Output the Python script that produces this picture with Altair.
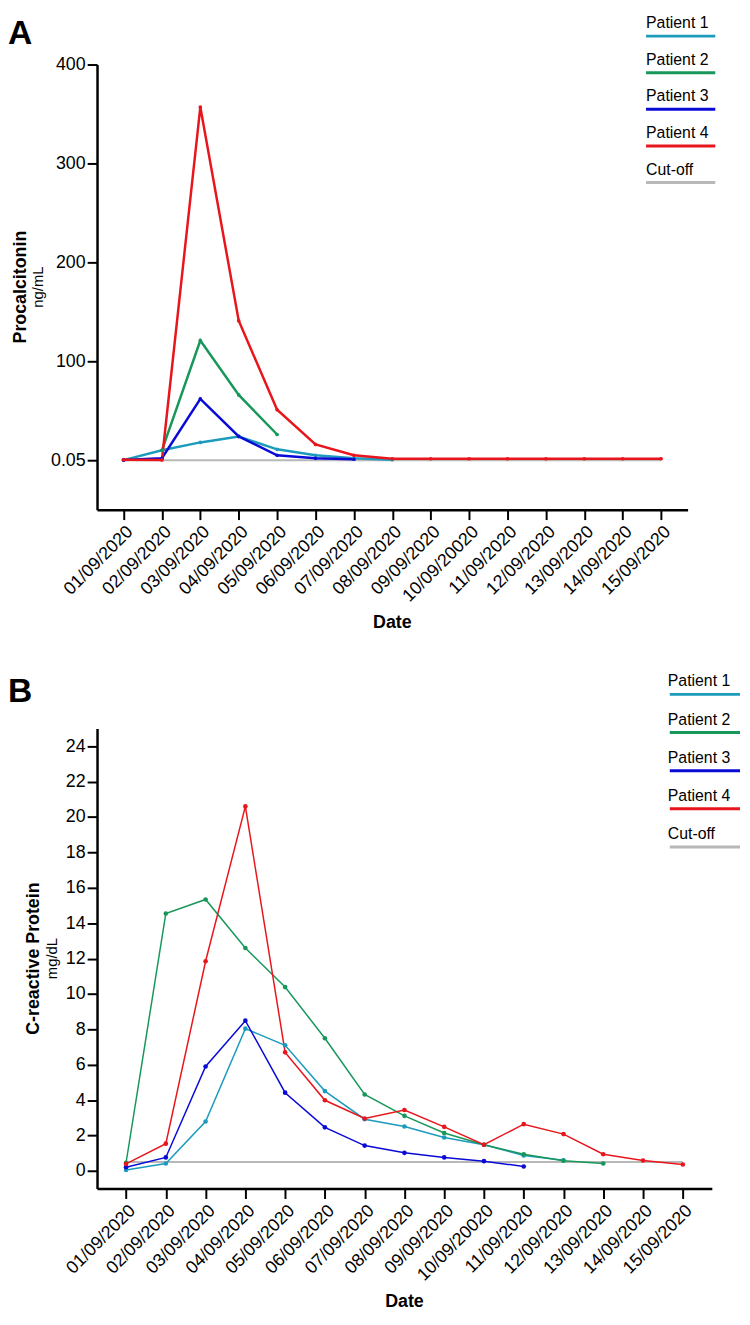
import altair as alt
import pandas as pd

dates = ["01/09/2020", "02/09/2020", "03/09/2020", "04/09/2020", "05/09/2020",
         "06/09/2020", "07/09/2020", "08/09/2020", "09/09/2020", "10/09/20020",
         "11/09/2020", "12/09/2020", "13/09/2020", "14/09/2020", "15/09/2020"]
patients = ["Patient 1", "Patient 2", "Patient 3", "Patient 4"]
legend_labels = patients + ["Cut-off"]
colors = ["#1d9bbd", "#17975a", "#0a0ad6", "#e8161c", "#b8b8b8"]

# Panel A: Procalcitonin (ng/mL)  (None = no measurement)
pct_p1 = [0.05, 10, 18, 24, 11, 5, 2, 0.5]
pct_p2 = [None, 10, 121, 66, 26]
pct_p3 = [0.3, 2, 62, 24, 5, 2, 1]
pct_p4 = [0.5, 0.3, 357, 141, 51, 16, 5, 1.5, 1.5, 1.5, 1.5, 1.5, 1.5, 1.5, 1.5]
pct_cutoff = 0.05
pct_yticks = [0.05, 100, 200, 300, 400]

# Panel B: C-reactive Protein (mg/dL)
crp_p1 = [0.05, 0.42, 2.79, 8.04, 7.1, 4.51, 2.92, 2.51, 1.89, 1.48, 0.87, 0.6]
crp_p2 = [0.46, 14.55, 15.34, 12.6, 10.39, 7.5, 4.32, 3.11, 2.14, 1.48, 0.94, 0.57, 0.42]
crp_p3 = [0.21, 0.76, 5.9, 8.49, 4.42, 2.46, 1.43, 1.02, 0.76, 0.55, 0.25]
crp_p4 = [0.4, 1.54, 11.85, 20.6, 6.7, 3.99, 2.96, 3.44, 2.49, 1.48, 2.64, 2.08, 0.94, 0.59, 0.36]
crp_cutoff = 0.5
crp_yticks = [0, 2, 4, 6, 8, 10, 12, 14, 16, 18, 20, 22, 24]


def long_df(series_list):
    rows = []
    for name, vals in zip(patients, series_list):
        for i, v in enumerate(vals):
            if v is not None:
                rows.append({"series": name, "date": dates[i], "idx": i, "value": v})
    return pd.DataFrame(rows)


def txt(s, x, y, size, weight="normal", angle=0, align="center", baseline="middle"):
    return alt.Chart(pd.DataFrame({"t": [s]})).mark_text(
        fontSize=size, fontWeight=weight, angle=angle, align=align,
        baseline=baseline, color="black", font="Liberation Sans"
    ).encode(x=alt.value(x), y=alt.value(y), text="t:N")


def panel(df, cutoff, yticks, ydom, w, h, sw, ps, xpad,
          title_main, title_unit, letter, letter_y, title_x, unit_x,
          leg_text_x, leg_x, leg_x2, leg_range):
    xenc = alt.X("date:O", sort=dates,
                 scale=alt.Scale(type="point", domain=dates, padding=xpad),
                 axis=alt.Axis(title=None, labelAngle=-45, labelFontSize=18,
                               labelPadding=3, labelAlign="right", labelBaseline="top"))
    yscale = alt.Scale(domain=ydom, nice=False, zero=False)
    color = alt.Color("series:N", scale=alt.Scale(domain=legend_labels, range=colors), legend=None)

    cut_df = pd.DataFrame({"date": [dates[0]], "date2": [dates[-1]],
                           "value": [cutoff], "series": ["Cut-off"]})
    cut = alt.Chart(cut_df).mark_rule(strokeWidth=2).encode(
        x=xenc, x2="date2:O", y=alt.Y("value:Q", scale=yscale, axis=None), color=color)
    lines = alt.Chart(df).mark_line(strokeWidth=sw).encode(
        x=xenc,
        y=alt.Y("value:Q", scale=yscale,
                axis=alt.Axis(values=yticks, title=None, labelFontSize=18,
                              labelExpr="datum.value == 0.05 ? '0.05' : format(datum.value, 'd')")),
        color=color, order="idx:Q")
    pts = alt.Chart(df).mark_circle(size=ps, opacity=1).encode(
        x=xenc, y=alt.Y("value:Q", scale=yscale, axis=None), color=color)

    leg_df = pd.DataFrame({"series": legend_labels})
    legy = alt.Y("series:N", scale=alt.Scale(type="point", domain=legend_labels,
                                             range=leg_range, padding=0), axis=None)
    leg_rule = alt.Chart(leg_df).mark_rule(strokeWidth=3).encode(
        x=alt.value(leg_x), x2=alt.value(leg_x2), y=legy, color=color)
    leg_text = alt.Chart(leg_df).mark_text(
        align="left", baseline="alphabetic", dy=-8, fontSize=16, color="black",
        font="Liberation Sans").encode(x=alt.value(leg_text_x), y=legy, text="series:N")

    layers = [
        cut, lines, pts, leg_rule, leg_text,
        txt(letter, -90, letter_y, 34, "bold", align="left", baseline="alphabetic"),
        txt(title_main, title_x, h / 2, 18, "bold", angle=270),
        txt(title_unit, unit_x, h / 2, 15, "normal", angle=270),
        txt("Date", w / 2, h + 115, 18, "bold"),
    ]
    return alt.layer(*layers).resolve_scale(y="independent").properties(width=w, height=h)


panel_a = panel(long_df([pct_p1, pct_p2, pct_p3, pct_p4]), pct_cutoff, pct_yticks,
                [-50, 400], 597, 450, 2.5, 14, 0.69,
                "Procalcitonin", "ng/mL", "A", -20.7, -77, -60,
                555, 555, 625, [-28.7, 119.3])
panel_b = panel(long_df([crp_p1, crp_p2, crp_p3, crp_p4]), crp_cutoff, crp_yticks,
                [-1, 25], 621.5, 465, 1.5, 22, 0.73,
                "C-reactive Protein", "mg/dL", "B", -26.6, -64, -45,
                577, 579, 650, [-34.6, 119.7])

chart = alt.vconcat(panel_a, panel_b, spacing=221.3, bounds="flush").properties(
    padding=0
).configure(font="Liberation Sans").configure_view(stroke=None).configure_axis(
    grid=False, domainColor="black", domainWidth=2.5, tickColor="black",
    tickWidth=2, tickSize=10, labelColor="black", labelFont="Liberation Sans"
)

chart.save("out.html", embed_options={"renderer": "svg", "actions": False})
